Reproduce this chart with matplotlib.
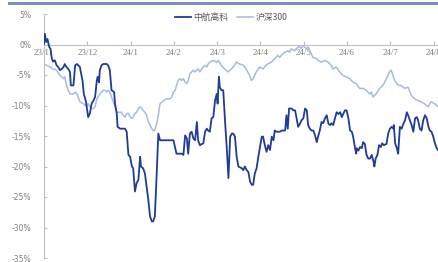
import numpy as np
import matplotlib
matplotlib.use('Agg')
import matplotlib.pyplot as plt

plt.rcParams['font.family'] = ['Noto Sans CJK SC', 'DejaVu Sans']

# x: months since start of 2023-11, y: cumulative return (%)
month_labels = ['23/11', '23/12', '24/1', '24/2', '24/3', '24/4', '24/5', '24/6', '24/7', '24/8']

zhgk_t = [0.00, 0.02, 0.05, 0.08, 0.12, 0.15, 0.18, 0.21, 0.25, 0.29, 0.33, 0.37, 0.41, 0.45,
          0.48, 0.52, 0.56, 0.60, 0.62, 0.68, 0.72, 0.76, 0.79, 0.83, 0.85, 0.89, 0.92, 0.97,
          1.02, 1.06, 1.10, 1.14, 1.18, 1.22, 1.24, 1.27, 1.29, 1.33, 1.37, 1.45, 1.48, 1.52,
          1.56, 1.62, 1.64, 1.68, 1.70, 1.76, 1.87, 1.91, 1.95, 1.99, 2.03, 2.06, 2.10, 2.14,
          2.18, 2.22, 2.24, 2.29, 2.33, 2.37, 2.41, 2.45, 2.49, 2.52, 2.56, 2.60, 2.64, 2.68,
          2.99, 3.03, 3.06, 3.18, 3.22, 3.26, 3.30, 3.33, 3.37, 3.41, 3.45, 3.49, 3.53, 3.56,
          3.60, 3.68, 3.72, 3.76, 3.79, 3.83, 3.87, 3.91, 3.95, 3.99, 4.01, 4.04, 4.06, 4.10,
          4.14, 4.18, 4.22, 4.26, 4.30, 4.34, 4.37, 4.41, 4.45, 4.49, 4.57, 4.60, 4.64, 4.68,
          4.72, 4.76, 4.80, 4.83, 4.87, 4.91, 4.95, 4.99, 5.03, 5.06, 5.10, 5.14, 5.18, 5.22,
          5.26, 5.30, 5.33, 5.37, 5.45, 5.49, 5.57, 5.60, 5.63, 5.66, 5.72, 5.76, 5.80, 5.84,
          5.87, 5.91, 5.95, 5.99, 6.03, 6.07, 6.10, 6.14, 6.18, 6.22, 6.26, 6.30, 6.33, 6.37,
          6.41, 6.45, 6.49, 6.53, 6.57, 6.61, 6.64, 6.68, 6.72, 6.76, 6.80, 6.84, 6.88, 6.91,
          6.95, 6.99, 7.03, 7.07, 7.11, 7.14, 7.18, 7.21, 7.22, 7.26, 7.30, 7.34, 7.37, 7.41,
          7.45, 7.49, 7.53, 7.57, 7.61, 7.63, 7.66, 7.70, 7.74, 7.78, 7.81, 7.85, 7.91, 7.95,
          7.99, 8.03, 8.07, 8.08, 8.11, 8.15, 8.18, 8.22, 8.26, 8.30, 8.34, 8.38, 8.41, 8.45,
          8.49, 8.53, 8.57, 8.61, 8.64, 8.68, 8.72, 8.76, 8.80, 8.84, 8.88, 8.91, 8.95, 8.99,
          9.03, 9.07, 9.10]
zhgk_v = [0.1, 1.75, 0.4, 0.9, -0.4, -0.7, -2.3, -2.8, -2.6, -3.4, -3.7, -4.2, -4.0, -3.7,
          -3.2, -3.7, -4.0, -4.5, -6.7, -6.7, -3.4, -3.2, -3.4, -3.7, -4.5, -5.9, -8.1, -9.4,
          -11.9, -11.3, -9.7, -9.2, -8.6, -5.9, -5.3, -6.2, -4.2, -3.4, -3.2, -3.2, -3.4, -4.2,
          -7.5, -7.8, -9.7, -11.3, -13.5, -13.8, -13.8, -14.3, -18.1, -18.4, -20.0, -20.3, -24.1, -22.7,
          -22.2, -18.4, -20.0, -20.3, -21.1, -23.3, -25.5, -28.2, -29.0, -29.0, -28.2, -21.7, -14.6, -15.7,
          -15.7, -17.0, -17.9, -17.9, -18.1, -14.9, -15.4, -17.9, -14.6, -14.3, -15.4, -15.7, -12.7, -15.7,
          -16.5, -16.2, -14.3, -13.8, -14.1, -14.3, -12.1, -11.9, -9.2, -8.1, -9.7, -5.3, -7.0, -7.5,
          -7.5, -12.4, -16.8, -21.9, -15.1, -14.6, -14.6, -15.1, -18.4, -20.0, -20.3, -20.6, -20.0, -20.6,
          -20.9, -22.5, -23.0, -23.0, -21.1, -20.3, -18.4, -16.8, -15.1, -15.1, -16.5, -17.6, -16.5, -17.3,
          -15.1, -15.7, -14.1, -14.3, -14.3, -14.1, -14.1, -11.6, -13.8, -10.5, -10.5, -10.8, -10.8, -12.4,
          -13.5, -13.0, -12.4, -12.1, -10.5, -10.8, -13.2, -13.8, -14.1, -14.1, -14.9, -16.0, -15.1, -14.1,
          -12.7, -12.9, -12.1, -11.6, -13.0, -13.2, -12.9, -13.2, -12.1, -11.1, -11.4, -11.1, -11.9, -11.4,
          -10.8, -10.8, -12.1, -14.1, -14.3, -15.1, -16.8, -17.9, -17.0, -17.4, -16.8, -17.0, -16.0, -16.3,
          -18.1, -18.7, -18.7, -18.1, -19.2, -20.0, -18.7, -18.1, -16.5, -16.8, -16.2, -16.5, -16.3, -14.6,
          -13.8, -13.5, -13.8, -13.2, -16.2, -17.0, -17.9, -13.5, -13.8, -13.0, -12.4, -11.1, -11.6, -12.4,
          -13.2, -14.3, -12.1, -11.9, -12.4, -13.8, -14.1, -12.4, -11.6, -12.1, -13.5, -14.1, -14.3, -15.1,
          -16.2, -17.0, -17.3]

hs300_t = [0.00, 0.06, 0.14, 0.21, 0.29, 0.37, 0.41, 0.45, 0.48, 0.52, 0.56, 0.60, 0.68, 0.72,
           0.76, 0.79, 0.83, 0.91, 0.95, 0.99, 1.02, 1.06, 1.10, 1.14, 1.18, 1.22, 1.25, 1.29,
           1.33, 1.37, 1.41, 1.45, 1.48, 1.52, 1.56, 1.60, 1.64, 1.68, 1.72, 1.79, 1.83, 1.87,
           1.91, 1.95, 1.99, 2.03, 2.06, 2.10, 2.14, 2.18, 2.22, 2.26, 2.29, 2.33, 2.37, 2.41,
           2.45, 2.49, 2.52, 2.56, 2.60, 2.64, 2.68, 2.76, 2.83, 2.91, 2.95, 2.99, 3.03, 3.06,
           3.10, 3.14, 3.18, 3.22, 3.26, 3.30, 3.33, 3.37, 3.41, 3.45, 3.49, 3.53, 3.56, 3.60,
           3.64, 3.68, 3.72, 3.76, 3.79, 3.83, 3.91, 3.99, 4.03, 4.09, 4.17, 4.25, 4.33, 4.40,
           4.44, 4.52, 4.60, 4.67, 4.75, 4.79, 4.83, 4.90, 4.98, 5.06, 5.13, 5.17, 5.25, 5.33,
           5.40, 5.44, 5.52, 5.56, 5.64, 5.67, 5.71, 5.79, 5.87, 5.91, 5.94, 5.98, 6.02, 6.06,
           6.10, 6.14, 6.21, 6.29, 6.33, 6.40, 6.48, 6.56, 6.64, 6.67, 6.75, 6.83, 6.91, 6.98,
           7.06, 7.14, 7.21, 7.29, 7.37, 7.44, 7.52, 7.56, 7.60, 7.67, 7.75, 7.83, 7.91, 7.98,
           8.02, 8.06, 8.10, 8.18, 8.25, 8.33, 8.41, 8.45, 8.48, 8.56, 8.64, 8.71, 8.79, 8.87,
           8.94, 9.02, 9.10]
hs300_v = [-3.2, -3.4, -3.7, -4.0, -4.2, -5.1, -5.3, -5.6, -5.3, -6.7, -7.5, -8.1, -8.1, -7.8,
           -8.1, -8.6, -9.4, -9.7, -10.0, -10.0, -9.7, -10.2, -10.5, -10.5, -10.2, -8.9, -8.6, -8.1,
           -7.8, -7.5, -7.5, -7.8, -7.5, -7.8, -8.6, -9.4, -10.2, -11.1, -11.1, -11.1, -11.6, -11.9,
           -11.3, -11.3, -11.9, -12.1, -11.9, -11.3, -11.1, -10.5, -10.2, -10.5, -10.8, -11.1, -11.6, -12.7,
           -13.2, -13.8, -14.1, -14.1, -13.0, -11.6, -9.7, -9.2, -8.9, -8.9, -8.6, -7.8, -7.5, -6.7,
           -5.9, -5.6, -5.9, -5.6, -6.2, -6.4, -5.9, -4.8, -4.5, -4.2, -4.5, -4.2, -4.0, -4.5,
           -4.0, -3.7, -3.4, -3.7, -3.2, -2.9, -2.6, -2.9, -2.6, -3.4, -4.0, -4.5, -4.0, -3.4,
           -2.9, -3.2, -3.4, -4.0, -5.1, -5.9, -5.6, -4.5, -3.7, -4.0, -3.4, -3.2, -2.9, -2.3,
           -1.8, -2.1, -1.5, -1.3, -1.0, -1.3, -0.7, -1.0, -0.4, -0.4, -0.7, -0.2, -0.4, -0.7,
           -0.4, -1.0, -2.1, -2.3, -2.6, -2.9, -2.6, -2.9, -3.4, -4.0, -3.7, -4.5, -5.1, -5.3,
           -5.6, -6.2, -6.4, -7.2, -7.2, -7.5, -8.1, -7.8, -8.6, -8.1, -7.2, -6.7, -5.6, -4.5,
           -4.2, -5.1, -5.9, -6.7, -6.7, -7.2, -7.0, -7.8, -8.3, -8.9, -9.2, -9.4, -9.7, -10.2,
           -9.4, -9.7, -10.2]

y_ticks = [5, 0, -5, -10, -15, -20, -25, -30, -35]

dark = '#1f3c96'
light = '#a7bbe0'
grey = '#7f7f7f'

fig = plt.figure(figsize=(4.38, 2.62), dpi=100)
ax = fig.add_axes([44 / 438, 4 / 262, 394 / 438, 244 / 262])

ax.plot(zhgk_t, zhgk_v, color=dark, lw=1.3, label='中航高科', zorder=3)
ax.plot(hs300_t, hs300_v, color=light, lw=1.1, label='沪深300', zorder=2)

ax.set_xlim(0, 9.10)
ax.set_ylim(-35, 5)

for s in ['top', 'right']:
    ax.spines[s].set_visible(False)
ax.spines['left'].set_color('#bfbfbf')
ax.spines['left'].set_linewidth(0.8)
ax.spines['bottom'].set_position(('data', 0))
ax.spines['bottom'].set_color('#bfbfbf')
ax.spines['bottom'].set_linewidth(0.8)

ax.set_yticks(y_ticks)
ax.set_yticklabels([f'{v}%' for v in y_ticks], fontsize=5.5, color=grey,
                   family=['DejaVu Sans'])
ax.tick_params(axis='y', direction='in', length=2.5, color='#bfbfbf', pad=9)

ax.set_xticks(range(len(month_labels)))
ax.set_xticklabels(month_labels, fontsize=6.5, color=grey, family=['Liberation Serif'])
ax.tick_params(axis='x', direction='in', length=3, color='#bfbfbf', pad=3)

leg = ax.legend(loc='upper center', bbox_to_anchor=(0.475, 1.035), ncol=2, frameon=False,
                fontsize=6.3, handlelength=1.8, columnspacing=1.0, handletextpad=0.3)
for t in leg.get_texts():
    t.set_color('#595959')

# top border band
fig.add_artist(plt.Line2D([0.02, 1.0], [0.988, 0.988], color='#7b8fc4', lw=2.2,
                          transform=fig.transFigure))

fig.savefig('out.png', dpi=100)
